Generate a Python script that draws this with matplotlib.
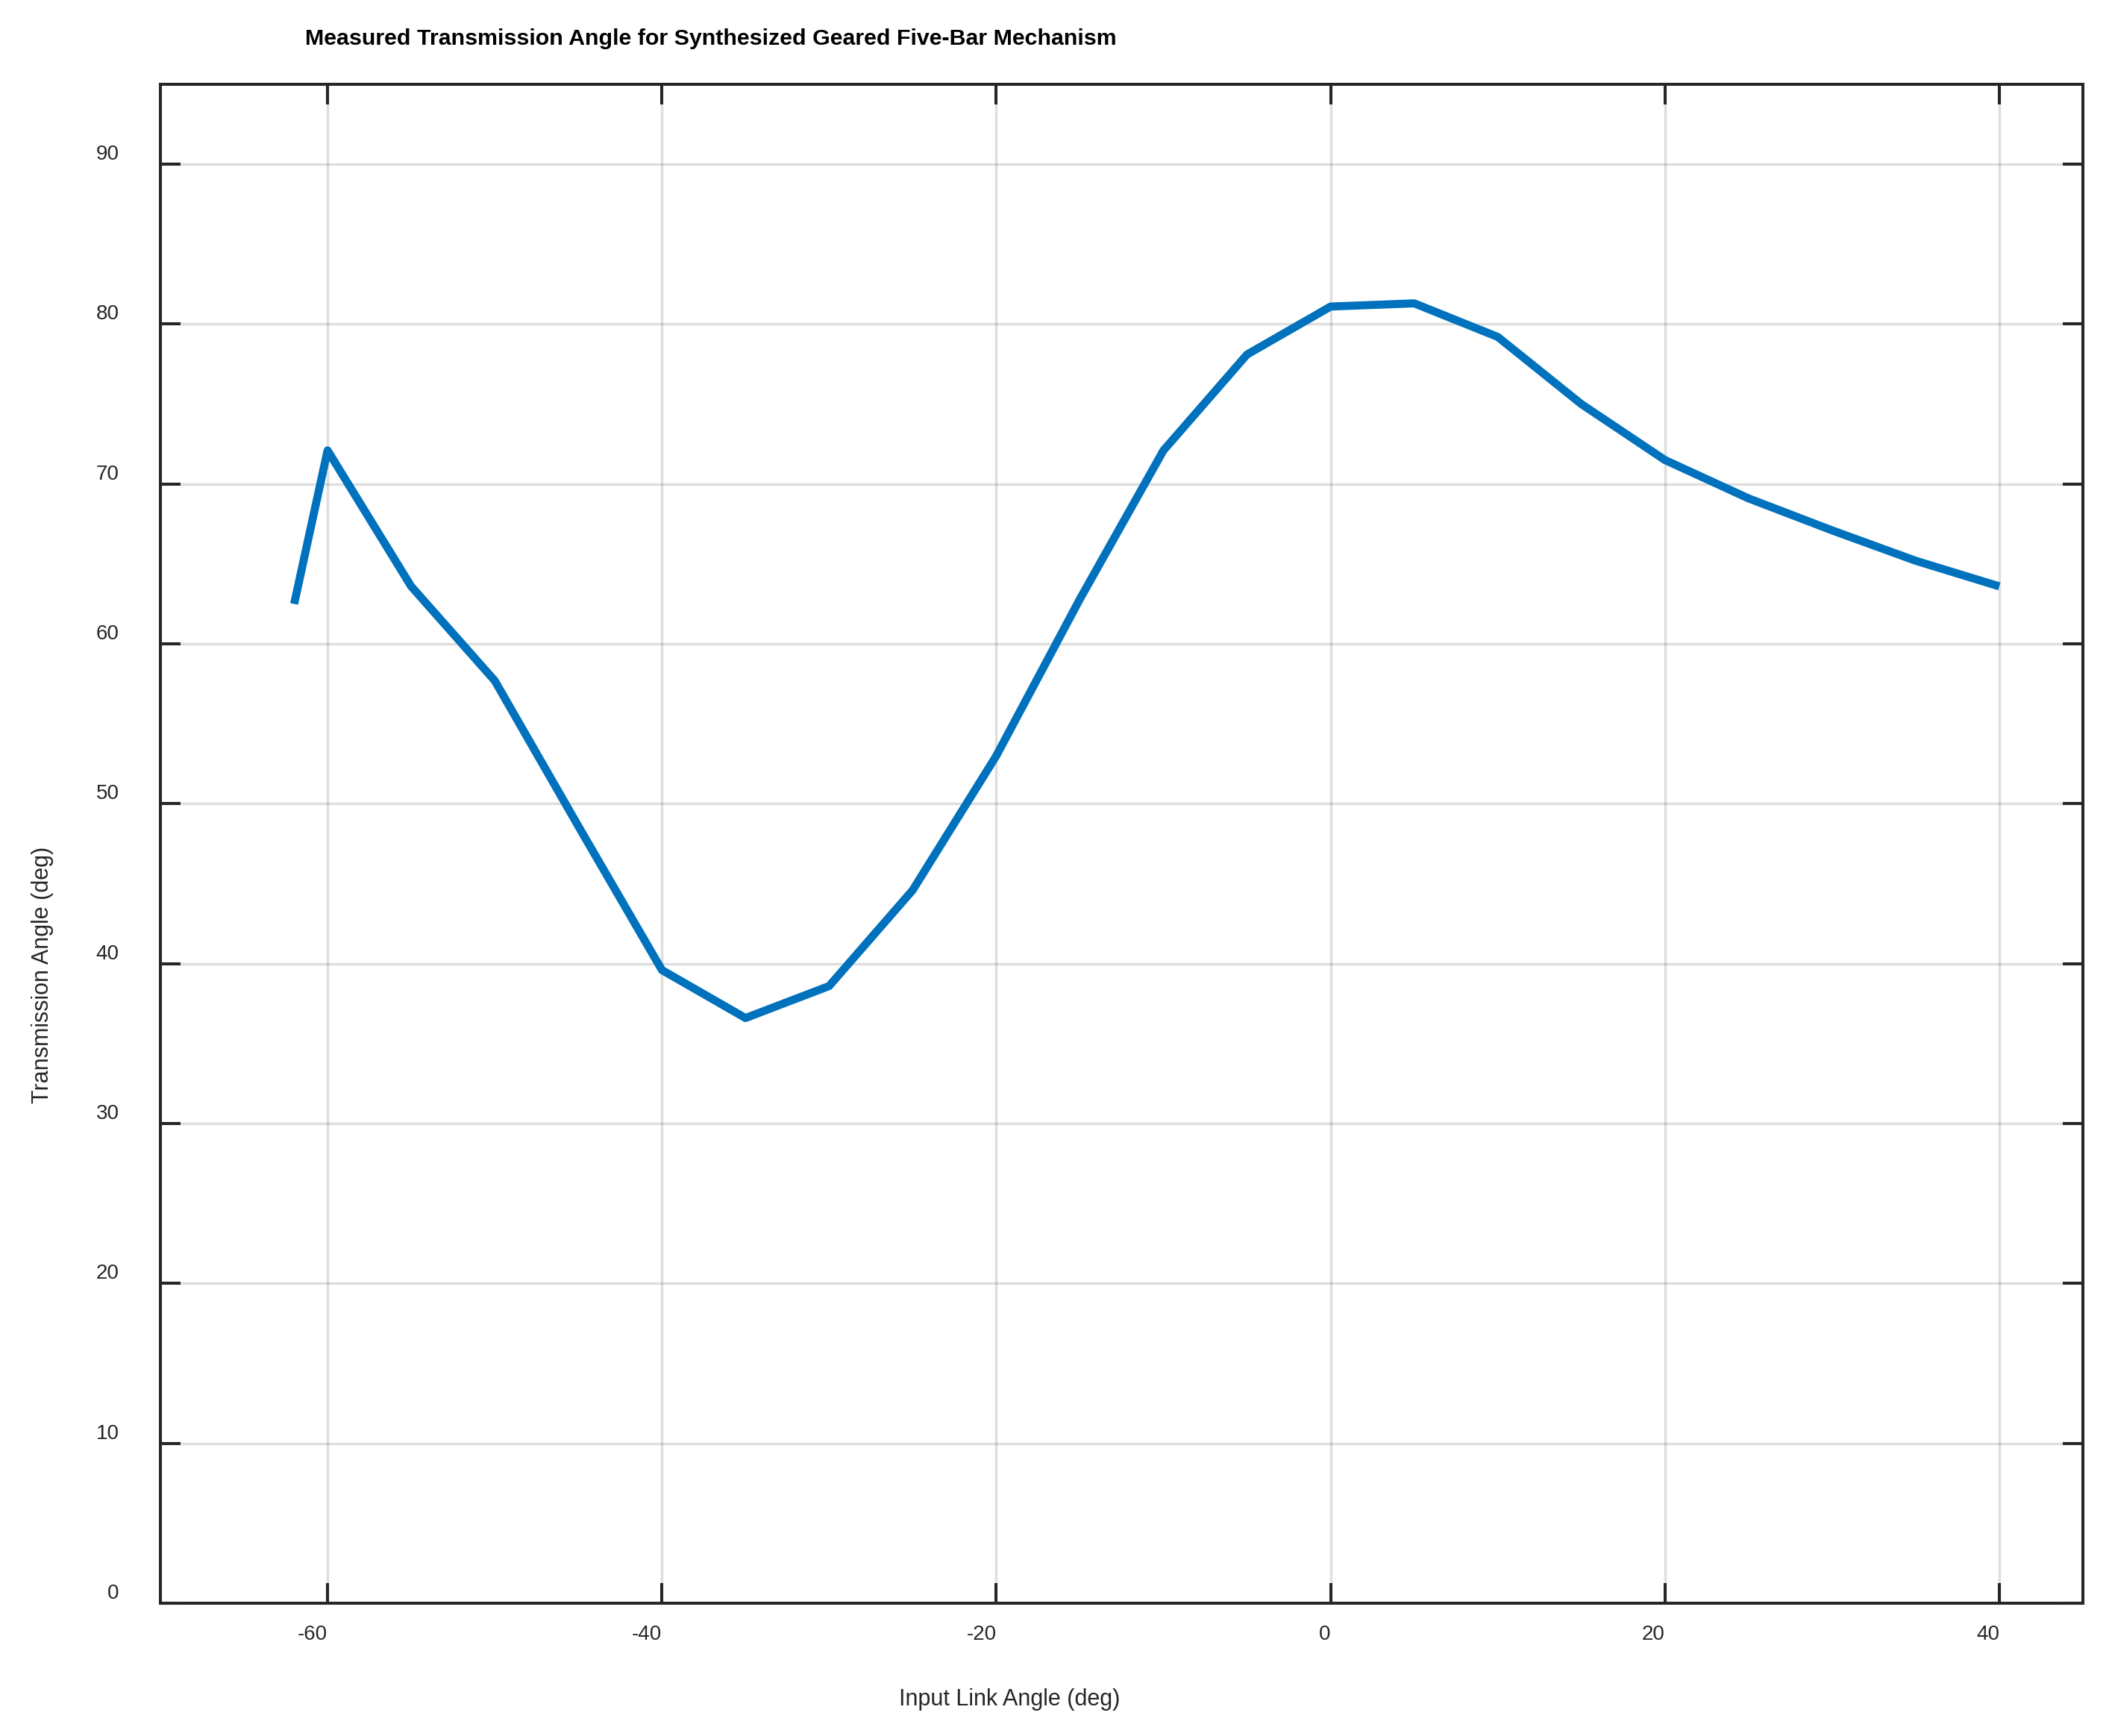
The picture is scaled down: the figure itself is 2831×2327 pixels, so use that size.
import matplotlib
matplotlib.use("Agg")
import matplotlib.pyplot as plt

plt.rcParams['font.family'] = ['Liberation Sans', 'DejaVu Sans']

# input link angle (deg) and measured transmission angle (deg)
input_angle = [-62, -60, -55, -50, -45, -40, -35, -30, -25, -20, -15,
               -10, -5, 0, 5, 10, 15, 20, 25, 30, 35, 40]
trans_angle = [62.5, 72.1, 63.6, 57.7, 48.6, 39.6, 36.6, 38.6, 44.6, 53.0, 62.8,
               72.1, 78.1, 81.1, 81.3, 79.2, 75.0, 71.5, 69.1, 67.1, 65.2, 63.6]

x_ticks = [-60, -40, -20, 0, 20, 40]
y_ticks = [0, 10, 20, 30, 40, 50, 60, 70, 80, 90]

dark = '#262626'

fig = plt.figure(figsize=(2831 / 200, 2327 / 200), dpi=200)
ax = fig.add_axes([0.07595, 0.07649, 0.91027, 0.87495])

ax.plot(input_angle, trans_angle, color='#0072BD', lw=3.9,
        solid_capstyle='butt', solid_joinstyle='round', zorder=3)

ax.set_xlim(-70, 45)
ax.set_ylim(0, 95)
ax.set_xticks(x_ticks)
ax.set_yticks(y_ticks)
ax.set_xticklabels([str(v) for v in x_ticks], ha='right')
ax.set_yticklabels([str(v) for v in y_ticks], va='bottom')

ax.grid(True, color=dark, alpha=0.15, lw=1.25, zorder=0)
ax.set_axisbelow(True)

for s in ax.spines.values():
    s.set_color(dark)
    s.set_linewidth(1.45)

ax.tick_params(axis='both', direction='in', length=9.8, width=1.45,
               color=dark, labelcolor=dark, labelsize=10,
               top=True, right=True)
ax.tick_params(axis='x', pad=10.5)
ax.tick_params(axis='y', pad=20)

# title and axis labels sit where the original put them
fig.text(953 / 2831, 1 - 60 / 2327,
         'Measured Transmission Angle for Synthesized Geared Five-Bar Mechanism',
         ha='center', va='baseline', fontsize=10.95, fontweight='bold', color='black')
fig.text(1353 / 2831, 1 - 2286 / 2327, 'Input Link Angle (deg)',
         ha='center', va='baseline', fontsize=11, color=dark)
fig.text(57.5 / 2831, 1 - 1307 / 2327, 'Transmission Angle (deg)',
         ha='center', va='center', rotation=90, fontsize=11, color=dark)

fig.savefig('out.png', dpi=200, facecolor='white')
